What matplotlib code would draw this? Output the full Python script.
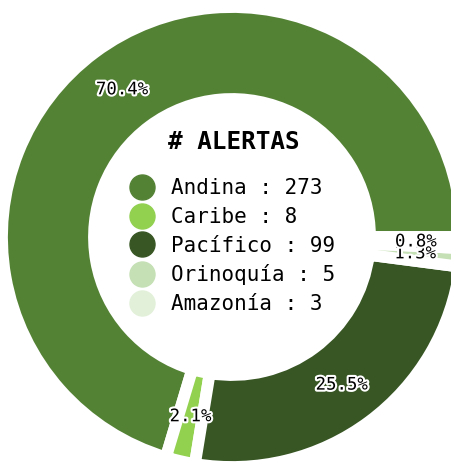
import matplotlib
matplotlib.use("Agg")
import matplotlib.pyplot as plt
import matplotlib.patheffects as pe
from matplotlib.lines import Line2D

regiones = ["Andina", "Caribe", "Pacífico", "Orinoquía", "Amazonía"]
alertas = [273, 8, 99, 5, 3]
colores = ["#548235", "#92D050", "#375623", "#C5E0B4", "#E2F0D9"]

MONO = "DejaVu Sans Mono"


def main():
    fig = plt.figure(figsize=(4.51, 4.62), dpi=100)
    ax = fig.add_axes([0, 0, 1, 1])

    wedges, texts, pcts = ax.pie(
        alertas,
        colors=colores,
        startangle=0,
        radius=1,
        autopct="%1.1f%%",
        pctdistance=0.8,
        wedgeprops=dict(width=0.4, edgecolor="white", linewidth=8.5),
        textprops=dict(family=MONO, fontsize=12.5, color="black"),
    )
    for t in pcts:
        t.set_path_effects([pe.withStroke(linewidth=3, foreground="white")])

    # the ring is bigger than the canvas, crop it on the right and bottom
    ax.set_aspect("auto")
    ax.set_xlim(-232 / 230, 219 / 230)
    ax.set_ylim(-225 / 230, 237 / 230)
    ax.axis("off")

    ax.text(0.01, 0.413, "# ALERTAS", ha="center", va="center",
            fontsize=17.5, fontweight="bold", family=MONO)

    handles = [Line2D([], [], marker="o", linestyle="", markersize=18,
                      markerfacecolor=c, markeredgecolor=c) for c in colores]
    labels = [f"{r} : {v}" for r, v in zip(regiones, alertas)]
    ax.legend(handles, labels, loc="center", bbox_to_anchor=(0.0, -0.04),
              bbox_transform=ax.transData, frameon=False,
              prop=dict(family=MONO, size=15), handlelength=1.2,
              handletextpad=0.8, labelspacing=0.42, borderpad=0)

    fig.savefig("out.png", dpi=100)


main()
